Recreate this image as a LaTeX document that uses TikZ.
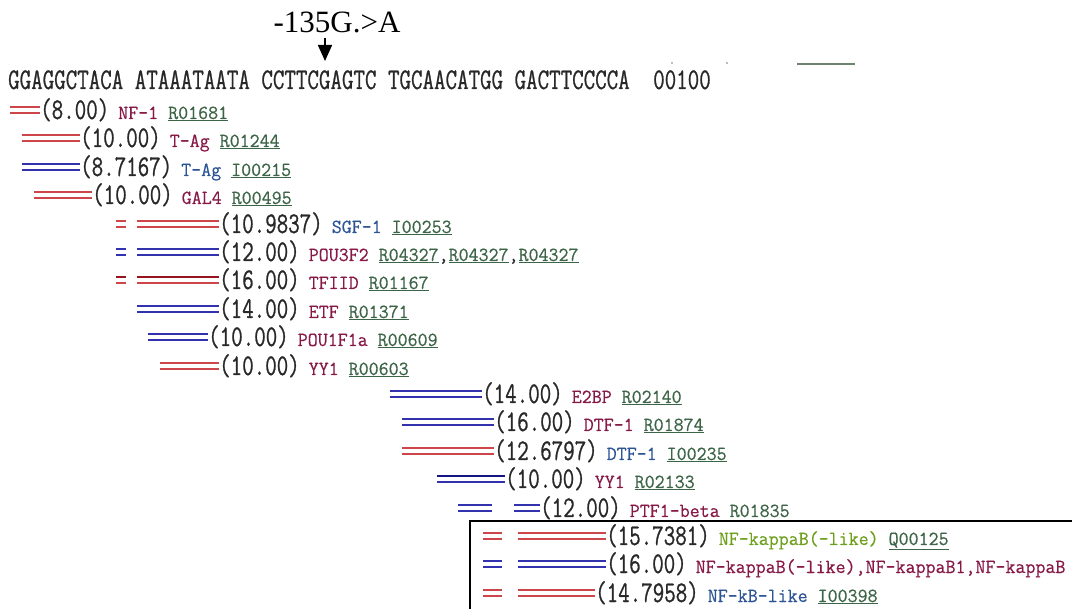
\documentclass[tikz,border=0pt]{standalone}
\usepackage{fontspec}
\setmainfont{Liberation Serif}
\newfontfamily\seqf[FakeStretch=0.745,FakeBold=0.8]{Latin Modern Mono}
\newfontfamily\nmf[FakeStretch=0.97,FakeBold=0.5]{Latin Modern Mono}
\usetikzlibrary{arrows.meta}
\definecolor{seqc}{RGB}{40,40,40}
\definecolor{barr}{RGB}{205,70,75}
\definecolor{barb}{RGB}{50,50,175}
\definecolor{bardr}{RGB}{150,20,30}
\definecolor{bardb}{RGB}{20,20,130}
\definecolor{nmr}{RGB}{135,25,70}
\definecolor{nmb}{RGB}{45,85,150}
\definecolor{nmg}{RGB}{110,160,30}
\definecolor{idc}{RGB}{60,100,70}
\definecolor{artc}{RGB}{110,130,110}
\newcommand\dbar[4]{\draw[bar,#1] (#2,#4-3) -- (#3,#4-3) (#2,#4+3) -- (#3,#4+3);}
\newcommand\idu[1]{\textcolor{idc}{\underline{#1}}}
\newcommand\rtxt[3]{{\seqf\fontsize{30}{30}\selectfont #1}\hspace{9pt}{\nmf\fontsize{20}{20}\selectfont\textcolor{#2}{#3}}}
\tikzset{
  bar/.style={line width=1.8pt},
  rowlab/.style={anchor=base west, inner sep=0pt, text=seqc},
  seqtxt/.style={anchor=base west, inner sep=0pt, text=seqc, font=\seqf\fontsize{30}{30}\selectfont},
}
\begin{document}
\begin{tikzpicture}[x=1pt,y=-1pt]
\useasboundingbox (0,0) rectangle (1072,609);
\clip (0,0) rectangle (1072,609);
% mutation label and arrow
\node[anchor=base, inner sep=0pt, font=\fontsize{31}{31}\selectfont] (mut) at (337,33) {-135G.>A};
\coordinate (tip) at (325,61);
\draw[line width=1.6pt, -{Triangle[width=14pt,length=16pt]}] (325,38) -- (tip);
% sequence
\node[seqtxt] (seq) at (8,89) {GGAGGCTACA ATAAATAATA CCTTCGAGTC TGCAACATGG GACTTCCCCA};
\node[seqtxt] (pos) at (653,89) {00100};
% artefacts
\fill[artc] (672,63) circle (0.9);
\fill[artc] (727,63) circle (0.9);
\draw[artc, line width=1.6pt] (797,64) -- (855,64);
% rows
\dbar{barr}{10}{40}{110}
\node[rowlab] (r1) at (40,119) {\rtxt{(8.00)}{nmr}{NF-1 \idu{R01681}}};
\dbar{barr}{22}{80}{138}
\node[rowlab] (r2) at (80,147) {\rtxt{(10.00)}{nmr}{T-Ag \idu{R01244}}};
\dbar{barb}{22}{80}{167}
\node[rowlab] (r3) at (80,176) {\rtxt{(8.7167)}{nmb}{T-Ag \idu{I00215}}};
\dbar{barr}{34}{92}{195}
\node[rowlab] (r4) at (92,204) {\rtxt{(10.00)}{nmr}{GAL4 \idu{R00495}}};
\dbar{barr}{116}{126}{224}\dbar{barr}{137}{219}{224}
\node[rowlab] (r5) at (219,233) {\rtxt{(10.9837)}{nmb}{SGF-1 \idu{I00253}}};
\dbar{barb}{116}{126}{252}\dbar{barb}{137}{219}{252}
\node[rowlab] (r6) at (219,261) {\rtxt{(12.00)}{nmr}{POU3F2 \idu{R04327}\textcolor{seqc}{,}\idu{R04327}\textcolor{seqc}{,}\idu{R04327}}};
\draw[bar,bardr] (116,277) -- (126,277) (137,277) -- (219,277);
\draw[bar,barr] (116,283) -- (126,283) (137,283) -- (219,283);
\node[rowlab] (r7) at (219,289) {\rtxt{(16.00)}{nmr}{TFIID \idu{R01167}}};
\dbar{barb}{137}{219}{309}
\node[rowlab] (r8) at (219,318) {\rtxt{(14.00)}{nmr}{ETF \idu{R01371}}};
\dbar{barb}{148}{208}{337}
\node[rowlab] (r9) at (208,346) {\rtxt{(10.00)}{nmr}{POU1F1a \idu{R00609}}};
\dbar{barr}{160}{219}{366}
\node[rowlab] (r10) at (219,375) {\rtxt{(10.00)}{nmr}{YY1 \idu{R00603}}};
\dbar{barb}{390}{482}{394}
\node[rowlab] (r11) at (482,403) {\rtxt{(14.00)}{nmr}{E2BP \idu{R02140}}};
\dbar{barb}{402}{494}{422}
\node[rowlab] (r12) at (494,431) {\rtxt{(16.00)}{nmr}{DTF-1 \idu{R01874}}};
\dbar{barr}{402}{494}{451}
\node[rowlab] (r13) at (494,460) {\rtxt{(12.6797)}{nmb}{DTF-1 \idu{I00235}}};
\draw[bardb, line width=2.6pt] (437,476) -- (505,476);
\draw[bar,barb] (437,482) -- (505,482);
\node[rowlab] (r14) at (505,488) {\rtxt{(10.00)}{nmr}{YY1 \idu{R02133}}};
\dbar{barb}{458}{492}{508}\dbar{barb}{514}{540}{508}
\node[rowlab] (r15) at (540,517) {\rtxt{(12.00)}{nmr}{PTF1-beta \textcolor{idc}{R01835}}};
% box
\draw[line width=2pt] (470,612) -- (470,521) -- (1075,521);
\dbar{barr}{483}{502}{536}\dbar{barr}{518}{606}{536}
\node[rowlab] (r16) at (606,545) {\rtxt{(15.7381)}{nmg}{NF-kappaB(-like) \idu{Q00125}}};
\dbar{barb}{483}{502}{564}\dbar{barb}{518}{606}{564}
\node[rowlab] (r17) at (606,573) {\rtxt{(16.00)}{nmr}{NF-kappaB(-like),NF-kappaB1,NF-kappaB}};
\dbar{barr}{483}{502}{593}\dbar{barr}{518}{595}{593}
\node[rowlab] (r18) at (595,602) {\rtxt{(14.7958)}{nmb}{NF-kB-like \idu{I00398}}};
\end{tikzpicture}
\end{document}
